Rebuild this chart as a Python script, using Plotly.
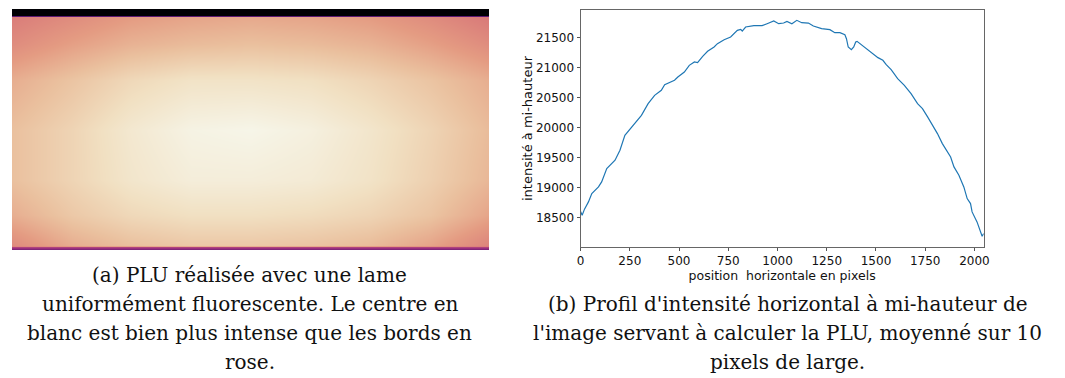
import plotly.graph_objects as go

# --- image (a): PLU intensity map, coarse grid (normalised 0-1)
img_cols = [0, 256, 512, 768, 1024, 1280, 1536, 1792, 2047]
img_rows = [0, 24, 29, 35, 150, 300, 512, 724, 874, 1000, 1006, 1012, 1018, 1023]
img_z = [
    [0.00, 0.00, 0.00, 0.00, 0.00, 0.00, 0.00, 0.00, 0.00],
    [0.00, 0.00, 0.00, 0.00, 0.00, 0.00, 0.00, 0.00, 0.00],
    [0.32, 0.32, 0.32, 0.32, 0.32, 0.32, 0.32, 0.32, 0.32],
    [0.68, 0.72, 0.76, 0.78, 0.79, 0.78, 0.76, 0.72, 0.67],
    [0.72, 0.77, 0.81, 0.83, 0.84, 0.83, 0.81, 0.77, 0.72],
    [0.80, 0.85, 0.90, 0.93, 0.93, 0.92, 0.89, 0.85, 0.80],
    [0.84, 0.89, 0.95, 0.99, 1.00, 0.98, 0.94, 0.89, 0.83],
    [0.84, 0.89, 0.94, 0.97, 0.97, 0.96, 0.93, 0.88, 0.82],
    [0.80, 0.86, 0.90, 0.92, 0.92, 0.91, 0.89, 0.85, 0.78],
    [0.72, 0.80, 0.84, 0.86, 0.86, 0.85, 0.83, 0.78, 0.70],
    [0.70, 0.76, 0.78, 0.80, 0.80, 0.79, 0.77, 0.74, 0.68],
    [0.52, 0.52, 0.52, 0.52, 0.52, 0.52, 0.52, 0.52, 0.52],
    [0.40, 0.40, 0.40, 0.40, 0.40, 0.40, 0.40, 0.40, 0.40],
    [0.30, 0.30, 0.30, 0.30, 0.30, 0.30, 0.30, 0.30, 0.30],
]

# --- profile (b): horizontal intensity at mid-height
pos = [0, 8, 20, 40, 57, 91, 107, 133, 175, 200, 225, 259, 284, 309, 343, 376,
       410, 427, 477, 494, 527, 552, 578, 594, 620, 645, 678, 695, 729, 762,
       796, 813, 821, 838, 880, 922, 947, 981, 1006, 1031, 1048, 1073, 1098,
       1123, 1157, 1182, 1224, 1266, 1291, 1317, 1342, 1350, 1359, 1375, 1387,
       1397, 1404, 1426, 1451, 1485, 1510, 1535, 1552, 1577, 1610, 1644, 1678,
       1711, 1736, 1762, 1787, 1812, 1837, 1862, 1879, 1896, 1921, 1946, 1963,
       1980, 1988, 2013, 2039, 2047]
intensite = [18600, 18540, 18640, 18761, 18899, 19010, 19093, 19315, 19454,
             19620, 19870, 20008, 20108, 20202, 20397, 20535, 20618, 20713,
             20785, 20840, 20923, 21034, 21090, 21080, 21184, 21267, 21339,
             21395, 21461, 21505, 21616, 21633, 21605, 21672, 21694, 21694,
             21727, 21772, 21727, 21738, 21766, 21727, 21783, 21744, 21738,
             21689, 21644, 21628, 21578, 21578, 21544, 21478, 21339, 21295,
             21339, 21422, 21433, 21378, 21323, 21228, 21162, 21117, 21045,
             20962, 20812, 20701, 20563, 20397, 20313, 20175, 20036, 19898,
             19731, 19593, 19509, 19343, 19204, 19010, 18816, 18733, 18594,
             18428, 18190, 18234]

xticks = [0, 250, 500, 750, 1000, 1250, 1500, 1750, 2000]
yticks = [18500, 19000, 19500, 20000, 20500, 21000, 21500]

caption_a = ["(a) PLU réalisée avec une lame",
             "uniformément fluorescente. Le centre en",
             "blanc est bien plus intense que les bords en",
             "rose."]
caption_b = ["(b) Profil d'intensité horizontal à mi-hauteur de",
             "l'image servant à calculer la PLU, moyenné sur 10",
             "pixels de large."]

# page body has an 8px margin, so the figure is a bit smaller than the window
OFF = 8
W, H = 1065 - OFF, 378 - OFF

plu_scale = [
    [0.00, "rgb(0,0,4)"],
    [0.25, "rgb(60,15,110)"],
    [0.45, "rgb(150,45,125)"],
    [0.60, "rgb(205,90,125)"],
    [0.68, "rgb(218,125,122)"],
    [0.76, "rgb(228,155,130)"],
    [0.84, "rgb(234,192,158)"],
    [0.92, "rgb(241,224,194)"],
    [1.00, "rgb(246,245,232)"],
]

fig = go.Figure()
fig.add_trace(go.Heatmap(x=img_cols, y=img_rows, z=img_z, colorscale=plu_scale,
                         zmin=0, zmax=1, zsmooth="best", showscale=False,
                         xaxis="x", yaxis="y", hoverinfo="skip"))
fig.add_trace(go.Scatter(x=pos, y=intensite, mode="lines",
                         line=dict(color="#1f77b4", width=1.2),
                         xaxis="x2", yaxis="y2"))

def px_x(p):
    return min(1, max(0, (p - OFF) / W))

def px_y(p):
    return min(1, max(0, 1 - (p - OFF) / H))

tickfont = dict(family="DejaVu Sans", size=12, color="#111")
xtitlefont = dict(family="DejaVu Sans", size=12.5, color="#111")
ytitlefont = dict(family="DejaVu Sans", size=13, color="#111")
fig.update_layout(
    width=W, height=H, margin=dict(l=0, r=0, t=0, b=0),
    paper_bgcolor="white", plot_bgcolor="white", showlegend=False,
    xaxis=dict(domain=[px_x(7), px_x(490)], range=[0, 2047], visible=False),
    yaxis=dict(domain=[px_y(250), px_y(9)], range=[1023, 0], visible=False),
    xaxis2=dict(domain=[px_x(582), px_x(989)], range=[0, 2047], anchor="y2",
                tickvals=xticks, ticks="outside", ticklen=3, tickcolor="#555",
                showline=True, linecolor="#666", mirror=True, showgrid=False,
                zeroline=False, tickfont=tickfont, tickformat="d",
                title=dict(text="position\u00a0 horizontale en pixels",
                           font=xtitlefont, standoff=1)),
    yaxis2=dict(domain=[px_y(247), px_y(10)], range=[18010, 21955], anchor="x2",
                tickvals=yticks, ticks="outside", ticklen=3, tickcolor="#555",
                showline=True, linecolor="#666", mirror=True, showgrid=False,
                zeroline=False, tickfont=tickfont, tickformat="d",
                title=dict(text="intensité à mi-hauteur", font=ytitlefont,
                           standoff=0)),
)

capfont = dict(family="DejaVu Serif", size=20, color="#111")
ann = []
for i, line in enumerate(caption_a):
    ann.append(dict(text=line, x=px_x(248), y=px_y(275 + 29 * i), xref="paper",
                    yref="paper", showarrow=False, font=capfont,
                    xanchor="center", yanchor="middle"))
for i, line in enumerate(caption_b):
    ann.append(dict(text=line, x=px_x(791), y=px_y(304 + 29 * i), xref="paper",
                    yref="paper", showarrow=False, font=capfont,
                    xanchor="center", yanchor="middle"))
fig.update_layout(annotations=ann)

fig.write_html("out.html")
